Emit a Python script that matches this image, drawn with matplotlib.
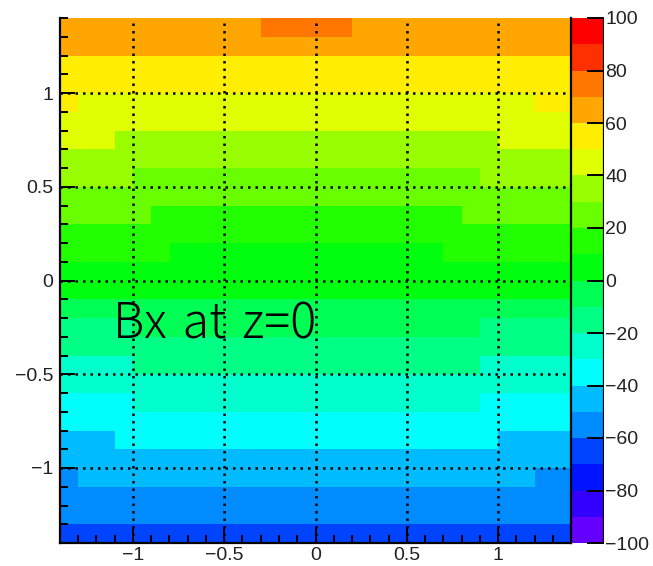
import colorsys
import numpy as np
import matplotlib
matplotlib.use("Agg")
import matplotlib.pyplot as plt
from matplotlib.colors import ListedColormap, BoundaryNorm

# Bx map in the z=0 plane, 0.1 wide bins, rows listed from y=1.4 down to y=-1.4
bin_edges = np.linspace(-1.4, 1.4, 29)
bx_values = [
    [65, 65, 65, 65, 65, 65, 65, 65, 65, 65, 65, 75, 75, 75, 75, 75, 65, 65, 65, 65, 65, 65, 65, 65, 65, 65, 65, 65],
    [65, 65, 65, 65, 65, 65, 65, 65, 65, 65, 65, 65, 65, 65, 65, 65, 65, 65, 65, 65, 65, 65, 65, 65, 65, 65, 65, 65],
    [55, 55, 55, 55, 55, 55, 55, 55, 55, 55, 55, 55, 55, 55, 55, 55, 55, 55, 55, 55, 55, 55, 55, 55, 55, 55, 55, 55],
    [55, 55, 55, 55, 55, 55, 55, 55, 55, 55, 55, 55, 55, 55, 55, 55, 55, 55, 55, 55, 55, 55, 55, 55, 55, 55, 55, 55],
    [55, 45, 45, 45, 45, 45, 45, 45, 45, 45, 45, 45, 45, 45, 45, 45, 45, 45, 45, 45, 45, 45, 45, 45, 45, 45, 55, 55],
    [45, 45, 45, 45, 45, 45, 45, 45, 45, 45, 45, 45, 45, 45, 45, 45, 45, 45, 45, 45, 45, 45, 45, 45, 45, 45, 45, 45],
    [45, 45, 45, 35, 35, 35, 35, 35, 35, 35, 35, 35, 35, 35, 35, 35, 35, 35, 35, 35, 35, 35, 35, 35, 45, 45, 45, 45],
    [35, 35, 35, 35, 35, 35, 35, 35, 35, 35, 35, 35, 35, 35, 35, 35, 35, 35, 35, 35, 35, 35, 35, 35, 35, 35, 35, 35],
    [35, 35, 35, 35, 25, 25, 25, 25, 25, 25, 25, 25, 25, 25, 25, 25, 25, 25, 25, 25, 25, 25, 25, 35, 35, 35, 35, 35],
    [25, 25, 25, 25, 25, 25, 25, 25, 25, 25, 25, 25, 25, 25, 25, 25, 25, 25, 25, 25, 25, 25, 25, 25, 25, 25, 25, 25],
    [25, 25, 25, 25, 25, 15, 15, 15, 15, 15, 15, 15, 15, 15, 15, 15, 15, 15, 15, 15, 15, 15, 25, 25, 25, 25, 25, 25],
    [15, 15, 15, 15, 15, 15, 15, 15, 15, 15, 15, 15, 15, 15, 15, 15, 15, 15, 15, 15, 15, 15, 15, 15, 15, 15, 15, 15],
    [15, 15, 15, 15, 15, 15, 5, 5, 5, 5, 5, 5, 5, 5, 5, 5, 5, 5, 5, 5, 5, 15, 15, 15, 15, 15, 15, 15],
    [5, 5, 5, 5, 5, 5, 5, 5, 5, 5, 5, 5, 5, 5, 5, 5, 5, 5, 5, 5, 5, 5, 5, 5, 5, 5, 5, 5],
    [5, 5, 5, 5, 5, 5, 5, 5, 5, 5, 5, 5, 5, 5, 5, 5, 5, 5, 5, 5, 5, 5, 5, 5, 5, 5, 5, 5],
    [-5, -5, -5, -5, -5, -5, -5, -5, -5, -5, -5, -5, -5, -5, -5, -5, -5, -5, -5, -5, -5, -5, -5, -5, -5, -5, -5, -5],
    [-15, -15, -15, -15, -5, -5, -5, -5, -5, -5, -5, -5, -5, -5, -5, -5, -5, -5, -5, -5, -5, -5, -5, -15, -15, -15, -15, -15],
    [-15, -15, -15, -15, -15, -15, -15, -15, -15, -15, -15, -15, -15, -15, -15, -15, -15, -15, -15, -15, -15, -15, -15, -15, -15, -15, -15, -15],
    [-25, -25, -25, -25, -15, -15, -15, -15, -15, -15, -15, -15, -15, -15, -15, -15, -15, -15, -15, -15, -15, -15, -15, -25, -25, -25, -25, -25],
    [-25, -25, -25, -25, -25, -25, -25, -25, -25, -25, -25, -25, -25, -25, -25, -25, -25, -25, -25, -25, -25, -25, -25, -25, -25, -25, -25, -25],
    [-35, -35, -35, -35, -25, -25, -25, -25, -25, -25, -25, -25, -25, -25, -25, -25, -25, -25, -25, -25, -25, -25, -25, -35, -35, -35, -35, -35],
    [-35, -35, -35, -35, -35, -35, -35, -35, -35, -35, -35, -35, -35, -35, -35, -35, -35, -35, -35, -35, -35, -35, -35, -35, -35, -35, -35, -35],
    [-45, -45, -45, -35, -35, -35, -35, -35, -35, -35, -35, -35, -35, -35, -35, -35, -35, -35, -35, -35, -35, -35, -35, -35, -45, -45, -45, -45],
    [-45, -45, -45, -45, -45, -45, -45, -45, -45, -45, -45, -45, -45, -45, -45, -45, -45, -45, -45, -45, -45, -45, -45, -45, -45, -45, -45, -45],
    [-55, -45, -45, -45, -45, -45, -45, -45, -45, -45, -45, -45, -45, -45, -45, -45, -45, -45, -45, -45, -45, -45, -45, -45, -45, -45, -55, -55],
    [-55, -55, -55, -55, -55, -55, -55, -55, -55, -55, -55, -55, -55, -55, -55, -55, -55, -55, -55, -55, -55, -55, -55, -55, -55, -55, -55, -55],
    [-55, -55, -55, -55, -55, -55, -55, -55, -55, -55, -55, -55, -55, -55, -55, -55, -55, -55, -55, -55, -55, -55, -55, -55, -55, -55, -55, -55],
    [-65, -65, -65, -65, -65, -65, -65, -65, -65, -65, -65, -65, -65, -65, -65, -65, -65, -65, -65, -65, -65, -65, -65, -65, -65, -65, -65, -65],
]
contour_levels = np.arange(-100, 101, 10)
axis_ticks = [-1, -0.5, 0, 0.5, 1]
palette_ticks = [-100, -80, -60, -40, -20, 0, 20, 40, 60, 80, 100]

# ROOT "pretty" palette: 50 hues from violet (280) to red, picked once per contour
n_pretty = 50
n_levels = len(contour_levels) - 1
level_colors = []
for k in range(n_levels):
    idx = int((k + 0.99) * n_pretty / n_levels)
    hue = 280 - (idx + 1) * 280.0 / n_pretty
    level_colors.append(colorsys.hls_to_rgb(hue / 360.0, 0.5, 1.0))
cmap = ListedColormap(level_colors)
norm = BoundaryNorm(contour_levels, cmap.N)

plt.rcParams['font.family'] = ['Liberation Sans', 'DejaVu Sans']

fig = plt.figure(figsize=(6.53, 5.66), dpi=100)
ax = fig.add_axes([60 / 653, 23 / 566, 511 / 653, 525 / 566])
cax = fig.add_axes([571 / 653, 23 / 566, 33 / 653, 525 / 566])

z = np.flipud(np.array(bx_values, dtype=float))
mesh = ax.pcolormesh(bin_edges, bin_edges, z, cmap=cmap, norm=norm)

ax.set_xlim(-1.4, 1.4)
ax.set_ylim(-1.4, 1.4)
ax.set_xticks(axis_ticks)
ax.set_yticks(axis_ticks)
ax.set_xticklabels(['\u22121', '\u22120.5', '0', '0.5', '1'])
ax.set_yticklabels(['\u22121', '\u22120.5', '0', '0.5', '1'])
ax.xaxis.set_minor_locator(matplotlib.ticker.MultipleLocator(0.1))
ax.yaxis.set_minor_locator(matplotlib.ticker.MultipleLocator(0.1))
ax.tick_params(which='major', direction='in', length=11, width=1.4,
               labelsize=14, labelcolor='#222222', top=False, right=False)
ax.tick_params(which='minor', direction='in', length=5.5, width=1.4,
               top=False, right=False)
ax.tick_params(axis='y', pad=5)
ax.tick_params(axis='x', pad=3)
ax.grid(True, which='major', color='black', linestyle=(0, (1, 2)), linewidth=1.8)

for side in ['left', 'bottom', 'right']:
    ax.spines[side].set_linewidth(1.6)
ax.spines['top'].set_visible(False)

ax.text(-1.11, -0.31, 'Bx\u2004at\u2004z=0', fontsize=35, fontweight='light', ha='left',
        va='baseline', family=['Noto Sans CJK JP', 'DejaVu Sans'])

cbar = fig.colorbar(mesh, cax=cax, ticks=palette_ticks)
cbar.outline.set_visible(False)
cax.axvline(0, color='black', linewidth=1.6)
cax.axvline(1, color='black', linewidth=1.6)
cax.set_yticklabels(['\u2212100', '\u221280', '\u221260', '\u221240', '\u221220', '0',
                     '20', '40', '60', '80', '100'])
cax.yaxis.set_ticks_position('right')
cax.tick_params(direction='in', length=12, width=1.4, pad=1, labelsize=14,
                labelcolor='#222222')
cax.minorticks_off()

fig.savefig('out.png', dpi=100)
